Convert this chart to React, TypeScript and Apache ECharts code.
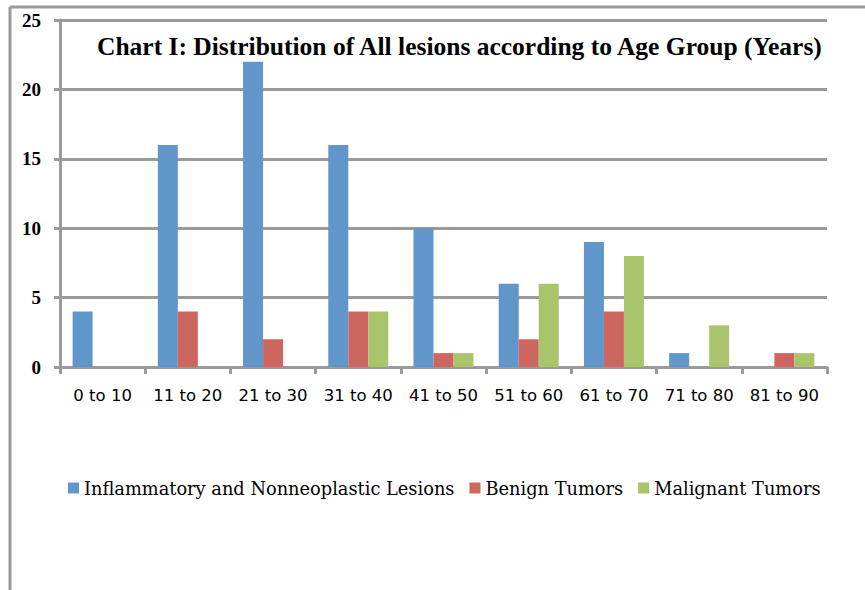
import React, { useEffect, useRef } from "react";
import * as echarts from "echarts";

const categories = ["0 to 10", "11 to 20", "21 to 30", "31 to 40", "41 to 50", "51 to 60", "61 to 70", "71 to 80", "81 to 90"];
const inflammatory = [4, 16, 22, 16, 10, 6, 9, 1, 0];
const benign = [0, 4, 2, 4, 1, 2, 4, 0, 1];
const malignant = [0, 0, 0, 4, 1, 6, 8, 3, 1];
const seriesNames = ["Inflammatory and Nonneoplastic Lesions", "Benign Tumors", "Malignant Tumors"];
const yTicks = { min: 0, max: 25, interval: 5 };
const titleText = "Chart I: Distribution of All lesions according to Age Group (Years)";

export default function App() {
  const ref = useRef<HTMLDivElement>(null);
  useEffect(() => {
    if (!ref.current) return;
    const chart = echarts.init(ref.current, null, { renderer: "svg" });
    const gray = "#9a9a9a";
    const bar = (name: string, data: number[], color: string) => ({
      name,
      type: "bar",
      data,
      barWidth: 20,
      barGap: "0%",
      itemStyle: { color },
    });
    chart.setOption({
      animation: false,
      backgroundColor: "#ffffff",
      title: {
        text: titleText,
        left: 97,
        top: 33,
        padding: 0,
        textStyle: { fontFamily: "Liberation Serif", fontWeight: "bold", fontSize: 25.5, color: "#000" },
      },
      legend: {
        left: 68,
        top: 479,
        padding: 0,
        itemWidth: 11,
        itemHeight: 11,
        itemGap: 15,
        icon: "rect",
        textStyle: { fontFamily: "DejaVu Serif", fontSize: 17.8, color: "#000" },
        data: seriesNames,
      },
      grid: { left: 60, right: 38, top: 20, bottom: 223, containLabel: false },
      xAxis: {
        type: "category",
        data: categories,
        axisLine: { lineStyle: { color: gray, width: 3 } },
        axisTick: { show: true, length: 7, lineStyle: { color: gray, width: 3 } },
        axisLabel: { margin: 20, fontFamily: "DejaVu Sans", fontSize: 16.5, color: "#000", interval: 0 },
      },
      yAxis: {
        type: "value",
        min: yTicks.min,
        max: yTicks.max,
        interval: yTicks.interval,
        axisLine: { show: true, lineStyle: { color: gray, width: 3 } },
        axisTick: { show: true, length: 6, lineStyle: { color: gray, width: 3 } },
        axisLabel: { margin: 19, fontFamily: "Liberation Serif", fontWeight: "bold", fontSize: 19, color: "#000" },
        splitLine: { show: true, lineStyle: { color: gray, width: 3 } },
      },
      graphic: [
        { type: "line", shape: { x1: 10, y1: 7, x2: 865, y2: 7 }, style: { stroke: gray, lineWidth: 3 } },
        { type: "line", shape: { x1: 10, y1: 7, x2: 10, y2: 590 }, style: { stroke: gray, lineWidth: 3 } },
      ],
      series: [
        bar(seriesNames[0], inflammatory, "#6096c9"),
        bar(seriesNames[1], benign, "#cd665f"),
        bar(seriesNames[2], malignant, "#aac46b"),
      ],
    });
    return () => chart.dispose();
  }, []);
  return <div ref={ref} style={{ position: "absolute", left: 0, top: 0, width: 865, height: 590 }} />;
}
